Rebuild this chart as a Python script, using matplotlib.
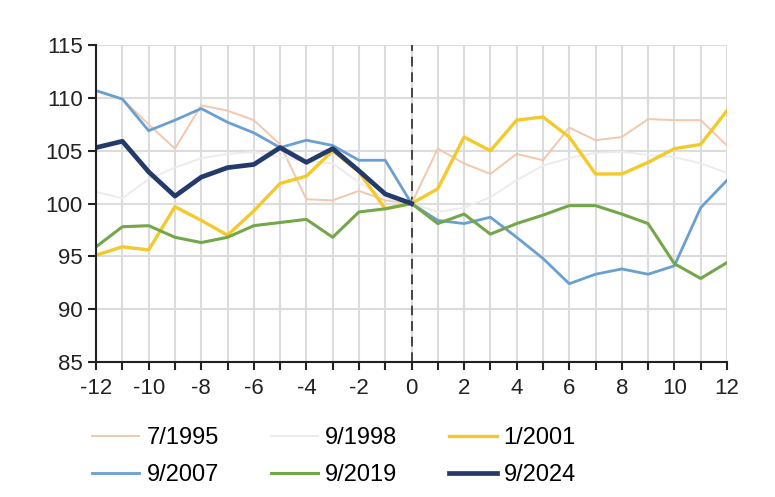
import numpy as np
import matplotlib
matplotlib.use("Agg")
import matplotlib.pyplot as plt
from matplotlib.ticker import MultipleLocator

plt.rcParams['font.family'] = ['Liberation Sans Narrow', 'Liberation Sans', 'DejaVu Sans']
plt.rcParams['axes.unicode_minus'] = False

# months relative to event
months = list(range(-12, 13))

s_1995 = [110.7, 109.9, 107.5, 105.2, 109.3, 108.8, 107.9, 105.6, 100.4, 100.3, 101.2, 100.3, 100.0,
          105.2, 103.8, 102.8, 104.7, 104.1, 107.2, 106.0, 106.3, 108.0, 107.9, 107.9, 105.5]
s_1998 = [101.1, 100.5, 102.3, 103.4, 104.3, 104.7, 104.9, 104.4, 104.0, 103.8, 102.0, 100.5, 100.0,
          99.2, 99.6, 100.6, 102.2, 103.6, 104.3, 104.8, 104.9, 104.6, 104.4, 103.8, 102.9]
s_2001 = [95.1, 95.9, 95.6, 99.7, 98.4, 97.0, 99.3, 101.9, 102.6, 105.0, 103.0, 99.5, 100.0,
          101.4, 106.3, 105.0, 107.9, 108.2, 106.3, 102.8, 102.8, 103.9, 105.2, 105.6, 108.8]
s_2007 = [110.7, 109.9, 106.9, 107.9, 109.0, 107.7, 106.7, 105.3, 106.0, 105.5, 104.1, 104.1, 100.0,
          98.4, 98.1, 98.7, 96.8, 94.8, 92.4, 93.3, 93.8, 93.3, 94.1, 99.6, 102.2]
s_2019 = [95.9, 97.8, 97.9, 96.8, 96.3, 96.8, 97.9, 98.2, 98.5, 96.8, 99.2, 99.5, 100.0,
          98.1, 99.0, 97.1, 98.1, 98.9, 99.8, 99.8, 99.0, 98.1, 94.3, 92.9, 94.4]
s_2024 = [105.3, 105.9, 103.0, 100.7, 102.5, 103.4, 103.7, 105.3, 103.9, 105.2, 103.1, 100.9, 100.0]

fig = plt.figure(figsize=(7.75, 4.97), dpi=100)
ax = fig.add_axes([0.124, 0.272, 0.814, 0.637])

ax.plot(months, s_1995, color='#f3c7ab', lw=1.4, label='7/1995')
ax.plot(months, s_1998, color='#ececec', lw=1.4, label='9/1998')
ax.plot(months, s_2001, color='#f4c92a', lw=2.4, label='1/2001')
ax.plot(months, s_2007, color='#6a9fd2', lw=2.0, label='9/2007')
ax.plot(months, s_2019, color='#74a64a', lw=2.2, label='9/2019')
ax.plot(months[:len(s_2024)], s_2024, color='#233a6b', lw=3.4, label='9/2024')

ax.axvline(0, color='#444444', lw=1.4, ls=(0, (5, 3)), zorder=1)

ax.set_xlim(-12, 12)
ax.set_ylim(85, 115)
ax.xaxis.set_major_locator(MultipleLocator(2))
ax.xaxis.set_minor_locator(MultipleLocator(1))
ax.yaxis.set_major_locator(MultipleLocator(5))
ax.grid(True, which='both', axis='x', color='#dcdcdc', lw=1.5, zorder=0)
ax.grid(True, which='major', axis='y', color='#dcdcdc', lw=1.5, zorder=0)
ax.set_axisbelow(True)

for sp in ['top', 'right']:
    ax.spines[sp].set_visible(False)
for sp in ['left', 'bottom']:
    ax.spines[sp].set_linewidth(1.5)
    ax.spines[sp].set_color('#222222')

ax.tick_params(axis='both', which='both', direction='out', length=6, width=1.5, color='#222222')
ax.tick_params(axis='both', labelsize=16, colors='#222222')
ax.tick_params(axis='x', pad=6)

handles, labels = ax.get_legend_handles_labels()
order = [0, 3, 1, 4, 2, 5]
fig.legend([handles[i] for i in order], [labels[i] for i in order],
           ncol=3, loc='lower left', bbox_to_anchor=(0.119, 0.022), frameon=False,
           borderaxespad=0, borderpad=0,
           fontsize=17, handlelength=2.0, handletextpad=0.3, columnspacing=2.2,
           labelspacing=0.63)

fig.savefig('out.png', dpi=100)
